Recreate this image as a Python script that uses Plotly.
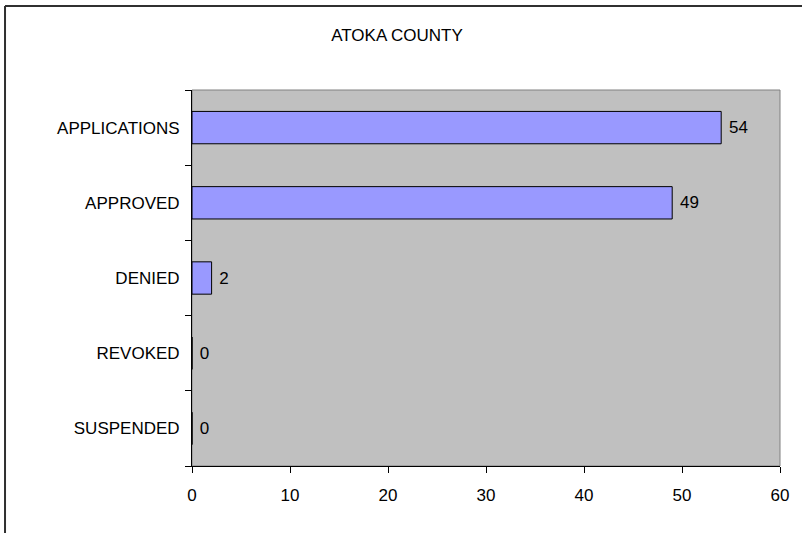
import plotly.graph_objects as go

categories = ["APPLICATIONS", "APPROVED", "DENIED", "REVOKED", "SUSPENDED"]
values = [54, 49, 2, 0, 0]
x_ticks = [0, 10, 20, 30, 40, 50, 60]
title = "ATOKA COUNTY"

FONT = "Liberation Sans, Arial, sans-serif"
FS = 17

fig = go.Figure(
    go.Bar(
        y=categories,
        x=values,
        orientation="h",
        marker=dict(color="#9999FF", line=dict(color="#000000", width=1)),
        text=values,
        texttemplate=" %{x}",
        textposition="outside",
        textfont=dict(family=FONT, size=FS, color="#000000"),
        cliponaxis=False,
        width=0.43,
    )
)

fig.update_layout(
    width=802,
    height=533,
    margin=dict(l=192, r=22, t=90, b=67),
    paper_bgcolor="#FFFFFF",
    plot_bgcolor="#C0C0C0",
    showlegend=False,
    font=dict(family=FONT, size=FS, color="#000000"),
    title=dict(
        text=title,
        x=0.495,
        xanchor="center",
        y=0.934,
        yanchor="middle",
        font=dict(family=FONT, size=FS, color="#000000"),
    ),
    shapes=[
        dict(
            type="rect", xref="paper", yref="paper",
            x0=0, x1=1, y0=0, y1=1,
            line=dict(color="#808080", width=1), layer="below",
        ),
        dict(
            type="line", xref="paper", yref="paper",
            x0=-0.318, x1=-0.318, y0=-0.3, y1=1.2234,
            line=dict(color="#303030", width=2),
        ),
        dict(
            type="line", xref="paper", yref="paper",
            x0=-0.318, x1=1.2, y0=1.2234, y1=1.2234,
            line=dict(color="#303030", width=2),
        ),
    ],
)

fig.update_xaxes(
    range=[0, 60],
    tickvals=x_ticks,
    ticks="outside",
    ticklen=6,
    tickcolor="#000000",
    showline=True,
    linecolor="#000000",
    linewidth=1,
    showgrid=False,
    zeroline=False,
    ticklabelstandoff=8,
    tickfont=dict(family=FONT, size=FS),
)

fig.update_yaxes(
    categoryorder="array",
    categoryarray=categories[::-1],
    ticks="outside",
    tickson="boundaries",
    ticklen=6,
    tickcolor="#000000",
    showline=True,
    linecolor="#000000",
    linewidth=1,
    showgrid=False,
    ticklabelstandoff=8,
    tickfont=dict(family=FONT, size=FS),
)

fig.write_html(
    "out.html",
    config={"displayModeBar": False},
    post_script="document.body.style.margin='0';document.body.style.padding='0';",
)
